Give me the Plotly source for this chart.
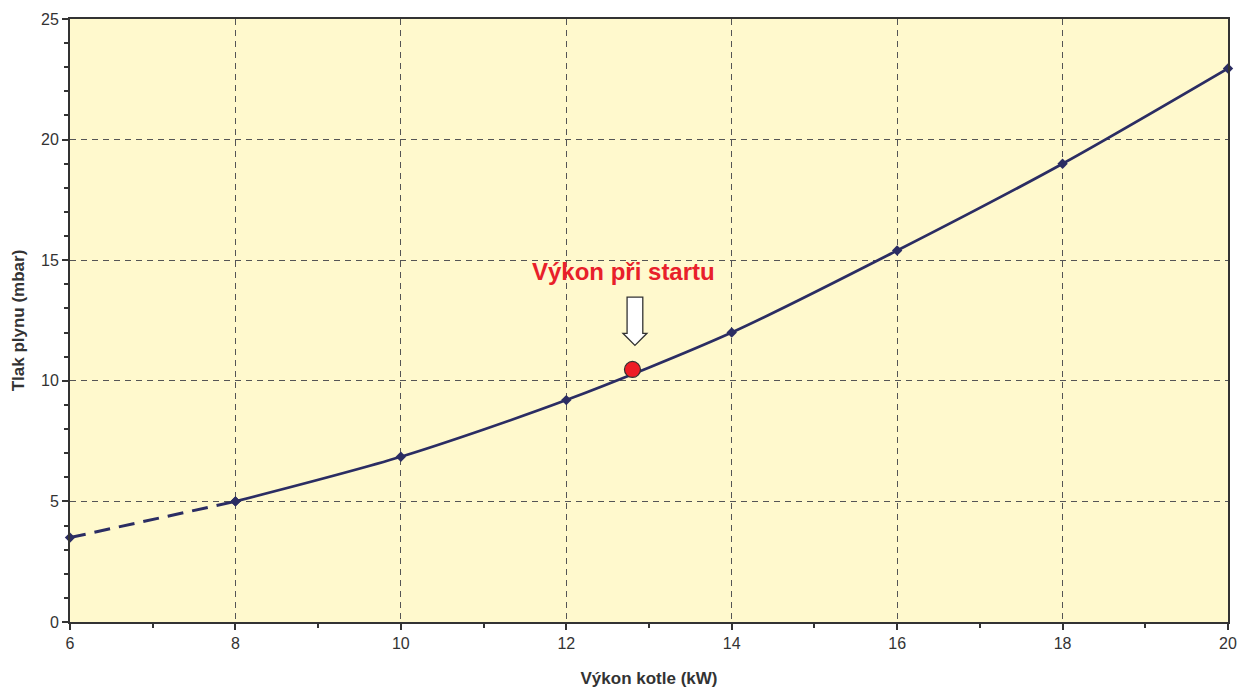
import plotly.graph_objects as go

power_kw = [6, 8, 10, 12, 14, 16, 18, 20]
pressure_mbar = [3.5, 5.0, 6.85, 9.2, 12.0, 15.4, 19.0, 22.95]

start_power = [12.8]
start_pressure = [10.47]
start_label = "Výkon při startu"

line_color = "#2b2d63"
font_fam = "Liberation Sans, Arial, sans-serif"

fig = go.Figure()

# dashed extrapolated part (6-8)
fig.add_trace(go.Scatter(
    x=power_kw[:2], y=pressure_mbar[:2], mode="lines+markers",
    line=dict(color=line_color, width=3, dash="16px,9px", shape="spline"),
    marker=dict(symbol="diamond", size=8, color=line_color),
    showlegend=False, hoverinfo="x+y", cliponaxis=False))
# solid part (8-20)
fig.add_trace(go.Scatter(
    x=power_kw[1:], y=pressure_mbar[1:], mode="lines+markers",
    line=dict(color=line_color, width=2.7, shape="spline", smoothing=0.8),
    marker=dict(symbol="diamond", size=8, color=line_color),
    showlegend=False, hoverinfo="x+y", cliponaxis=False))

# start point
fig.add_trace(go.Scatter(
    x=start_power, y=start_pressure, mode="markers",
    marker=dict(symbol="circle", size=16, color="#ee1c25",
                line=dict(color="#333333", width=1.2)),
    showlegend=False, hoverinfo="x+y"))

# block arrow above the start point
ax0 = start_power[0] + 0.03
tip = start_pressure[0] + 1.0
head = tip + 0.5
top = tip + 2.0
sw = 0.095
hw = 0.145
path = (f"M {ax0-sw},{top} L {ax0+sw},{top} L {ax0+sw},{head} L {ax0+hw},{head} "
        f"L {ax0},{tip} L {ax0-hw},{head} L {ax0-sw},{head} Z")
fig.add_shape(type="path", path=path, xref="x", yref="y",
              fillcolor="white", line=dict(color="#333333", width=1.3))

fig.add_annotation(x=start_power[0] - 0.11, y=start_pressure[0] + 4.05,
                   text=f"<b>{start_label}</b>", showarrow=False,
                   font=dict(family=font_fam, size=24, color="#e8202a"))

axis_common = dict(
    showline=True, linecolor="#333333", linewidth=2, mirror=True,
    ticks="outside", ticklen=6, tickwidth=1.5, tickcolor="#333333",
    showgrid=True, gridcolor="#555555", griddash="6px,5px", gridwidth=1,
    zeroline=False, automargin=False,
    tickfont=dict(family=font_fam, size=16, color="#333333"),
)

fig.update_xaxes(range=[6, 20], dtick=2, tick0=6,
                 minor=dict(dtick=1, ticks="outside", ticklen=4, tickcolor="#333333", showgrid=False),
                 title=dict(text="<b>Výkon kotle (kW)</b>", standoff=21,
                            font=dict(family=font_fam, size=17, color="#333333")),
                 **axis_common)
fig.update_yaxes(range=[0, 25], dtick=5, tick0=0,
                 minor=dict(dtick=1, ticks="outside", ticklen=4, tickcolor="#333333", showgrid=False),
                 title=dict(text="<b>Tlak plynu (mbar)</b>", standoff=12,
                            font=dict(family=font_fam, size=17, color="#333333")),
                 **axis_common)

fig.update_layout(
    width=1241, height=690,
    margin=dict(l=70, r=13, t=19, b=68),
    plot_bgcolor="#fff9cd", paper_bgcolor="white",
    font=dict(family=font_fam),
)

fig.write_html("out.html",
               config={"displayModeBar": False},
               post_script="document.body.style.margin='0';document.body.style.overflow='hidden';")
